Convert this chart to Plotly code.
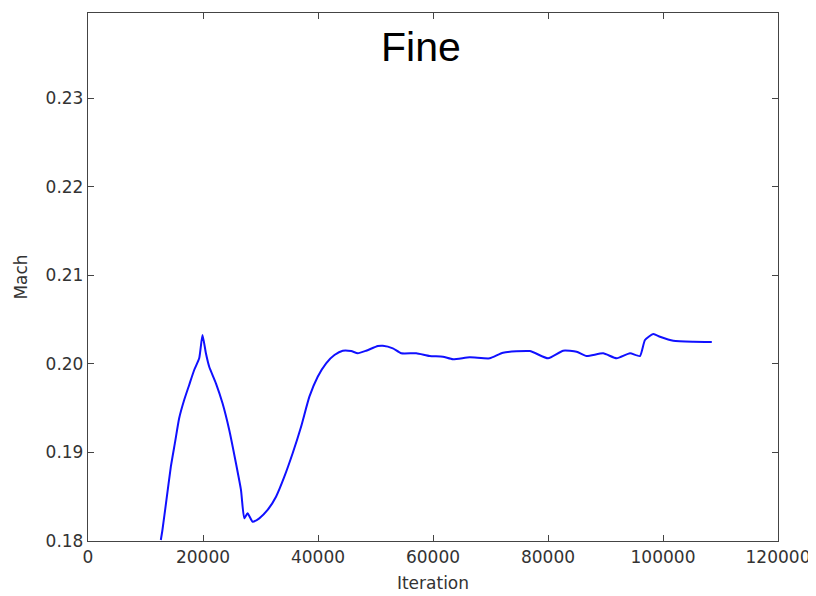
import plotly.graph_objects as go

iteration = [12666, 12945, 13641, 14408, 15157, 15854, 16725, 17596, 18467, 19338,
             19913, 20506, 21081, 22248, 23398, 24565, 25732, 26603, 27178, 27753,
             28624, 29792, 31238, 32701, 34147, 35593, 37057, 38503, 39949, 41412,
             42858, 44304, 45768, 46918, 48381, 50402, 51273, 53016, 54479, 57092,
             59409, 61726, 63468, 66378, 69862, 72180, 76831, 80020, 82632, 84967,
             86709, 89601, 91936, 94253, 95995, 96866, 98312, 99480, 101797, 105281,
             108487]
mach = [0.18011, 0.18124, 0.18463, 0.18839, 0.19121, 0.19385, 0.19591, 0.19761, 0.19930, 0.20062,
        0.20325, 0.20119, 0.19967, 0.19780, 0.19554, 0.19253, 0.18877, 0.18576, 0.18256, 0.18313,
        0.18218, 0.18256, 0.18350, 0.18500, 0.18726, 0.18990, 0.19290, 0.19629, 0.19854, 0.20006,
        0.20099, 0.20148, 0.20144, 0.20119, 0.20148, 0.20201, 0.20204, 0.20175, 0.20119, 0.20119,
        0.20088, 0.20080, 0.20051, 0.20073, 0.20062, 0.20125, 0.20144, 0.20062, 0.20148, 0.20137,
        0.20088, 0.20119, 0.20062, 0.20119, 0.20088, 0.20269, 0.20336, 0.20306, 0.20261, 0.20249,
        0.20246]

x_ticks = [0, 20000, 40000, 60000, 80000, 100000, 120000]
y_ticks = [0.18, 0.19, 0.20, 0.21, 0.22, 0.23]
y_labels = ["0.18", "0.19", "0.20", "0.21", "0.22", "0.23"]

fig = go.Figure()
fig.add_trace(go.Scatter(x=iteration, y=mach, mode="lines",
                         line=dict(color="#1010ff", width=2, shape="spline", smoothing=0.5),
                         showlegend=False))

axis_common = dict(showline=True, linecolor="#444", linewidth=1.3, mirror="ticks",
                   ticks="inside", ticklen=6, tickcolor="#444", tickwidth=1,
                   showgrid=False, zeroline=False, automargin=False,
                   tickfont=dict(family="DejaVu Sans", size=17, color="#333"))

fig.update_layout(
    width=808, height=588,
    margin=dict(l=80, r=38, t=5, b=55),
    paper_bgcolor="white", plot_bgcolor="white",
    xaxis=dict(range=[0, 120000], tickvals=x_ticks, tickformat="d",
               title=dict(text="Iteration", font=dict(family="DejaVu Sans", size=17, color="#333"), standoff=11),
               **axis_common),
    yaxis=dict(range=[0.18, 0.2396], tickvals=y_ticks, ticktext=y_labels,
               title=dict(text="Mach", font=dict(family="DejaVu Sans", size=17, color="#333"), standoff=13),
               **axis_common),
    annotations=[dict(text="Fine", xref="paper", yref="paper", x=0.482, y=0.9347,
                      xanchor="center", yanchor="middle", showarrow=False,
                      font=dict(family="Liberation Sans", size=41, color="black"))],
)

fig.write_html("out.html")
